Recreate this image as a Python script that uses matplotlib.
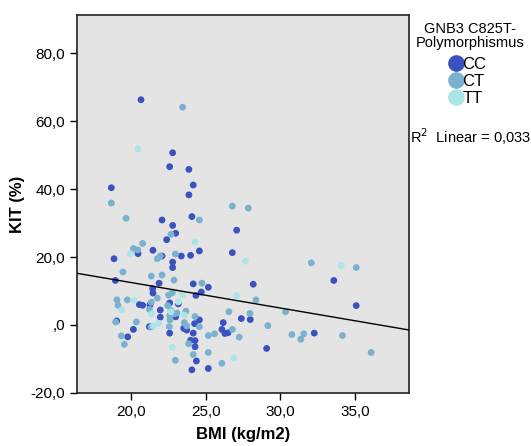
import numpy as np
from matplotlib import pyplot as plt
from matplotlib.ticker import FuncFormatter
from matplotlib.lines import Line2D

plt.rcParams['font.family'] = ['Liberation Sans', 'DejaVu Sans']

# BMI / KIT values, per genotype
cc_bmi = [20.67, 18.68, 18.86, 18.95, 19.04, 19.78, 20.16, 20.47, 20.56, 20.78,
          21.47, 21.45, 21.47, 21.27, 21.23, 21.88, 21.96, 21.96, 22.08, 22.08,
          22.39, 22.59, 22.79, 22.79, 22.99, 22.79, 22.79, 22.59, 22.59, 22.99,
          23.17, 23.37, 23.88, 23.88, 24.17, 24.08, 23.99, 24.17, 24.58, 24.71,
          24.35, 25.18, 23.53, 23.73, 24.17, 23.99, 24.29, 24.29, 24.26, 24.58,
          24.38, 24.08, 25.18, 26.18, 26.09, 26.29, 26.50, 26.79, 27.08, 27.39,
          27.99, 28.19, 29.09, 32.28, 33.59, 35.09]
cc_kit = [66.3, 40.4, 19.5, 13.1, 1.2, -3.5, -1.3, 21.0, 6.0, 5.8,
          22.0, 10.7, 9.4, 5.9, -0.5, 12.3, 4.4, 2.3, 30.9, 20.3,
          25.1, 46.6, 50.7, 29.3, 27.0, 18.5, 16.9, 6.5, -2.4, 2.4,
          6.2, 20.3, 45.8, 38.3, 41.2, 31.9, 20.5, 12.1, 21.8, 9.7,
          8.7, 11.1, -1.0, -1.5, -2.4, -4.5, -4.6, -6.4, 0.4, 1.5,
          -10.6, -13.2, -12.8, 0.7, -1.3, -2.5, -2.3, 21.3, 27.9, 1.9,
          1.6, 12.0, -6.9, -2.4, 13.1, 5.7]

ct_bmi = [23.46, 18.68, 19.67, 24.58, 26.79, 27.86, 22.68, 20.78, 20.16, 20.45,
          21.76, 21.96, 22.97, 19.46, 21.36, 22.08, 22.88, 24.75, 21.76, 19.06,
          19.13, 19.75, 20.36, 18.97, 19.35, 19.55, 21.36, 21.23, 21.34, 22.52,
          22.77, 22.46, 22.59, 22.61, 22.57, 22.68, 22.88, 23.08, 23.68, 23.57,
          23.73, 24.29, 24.58, 23.86, 24.17, 22.97, 25.18, 25.60, 25.18, 26.09,
          26.56, 26.79, 27.25, 27.97, 28.37, 29.17, 30.36, 30.78, 31.38, 31.58,
          32.08, 34.17, 35.09, 36.09]
ct_kit = [64.1, 35.9, 31.4, 30.9, 35.0, 34.4, 26.7, 24.0, 22.5, 22.1,
          19.5, 20.3, 20.9, 15.6, 14.4, 14.7, 13.2, 12.3, 7.9, 7.4,
          5.8, 7.4, 0.9, 0.9, -3.2, -5.7, 6.7, 4.6, -0.6, 8.8,
          9.5, 5.7, 2.8, 1.5, -0.5, 4.3, 3.3, 3.5, 4.1, 0.7,
          -0.3, 2.5, -0.5, -5.5, -8.7, -10.4, -3.1, -2.6, -8.1, -11.3,
          3.9, -1.3, -3.6, 3.4, 7.4, -0.2, 3.9, -2.8, -4.2, -2.6,
          18.3, -3.1, 16.9, -8.1]

tt_bmi = [20.47, 19.96, 20.18, 19.38, 21.38, 21.50, 21.85, 22.68, 23.17, 23.46,
          23.57, 24.29, 22.77, 27.08, 27.66, 26.88, 34.08]
tt_kit = [51.8, 21.0, 7.3, 4.5, 3.3, -0.3, 0.5, 3.9, 6.8, 8.9,
          2.9, 24.4, -6.6, 8.7, 18.8, -9.7, 17.5]

# fit line
fit_intercept = 27.5
fit_slope = -0.75
r2 = 0.033

c_cc = '#3A51C0'
c_ct = '#7AB1CF'
c_tt = '#ABE5E7'

fig = plt.figure(figsize=(5.31, 4.46), dpi=100)
ax = fig.add_axes([0.145, 0.119, 0.625, 0.847])
ax.set_facecolor('#E4E4E4')

ax.scatter(cc_bmi, cc_kit, s=24, color=c_cc, edgecolors='none', zorder=3)
ax.scatter(ct_bmi, ct_kit, s=24, color=c_ct, edgecolors='none', zorder=3)
ax.scatter(tt_bmi, tt_kit, s=24, color=c_tt, edgecolors='none', zorder=3)

xmin, xmax = 16.38, 38.62
xs = np.array([xmin, xmax])
ax.plot(xs, fit_intercept + fit_slope * xs, color='black', lw=1, zorder=4)

ax.set_xlim(xmin, xmax)
ax.set_ylim(-20, 91.2)
ax.set_xticks([20, 25, 30, 35])
ax.set_yticks([-20, 0, 20, 40, 60, 80])

def fmt(v, pos):
    s = ('%.1f' % v).replace('.', ',')
    if s.startswith('0,'):
        s = s[1:]
    return s

ax.xaxis.set_major_formatter(FuncFormatter(fmt))
ax.yaxis.set_major_formatter(FuncFormatter(fmt))
ax.tick_params(labelsize=11, length=5, width=1, color='black')
for sp in ax.spines.values():
    sp.set_linewidth(1.2)
    sp.set_color('#222222')

ax.set_xlabel('BMI (kg/m2)', fontsize=12, fontweight='bold', labelpad=6)
ax.set_ylabel('KIT (%)', fontsize=12, fontweight='bold', labelpad=4)

# legend
fig.text(0.885, 0.92, 'GNB3 C825T-\nPolymorphismus', ha='center', va='center',
         fontsize=10.5, linespacing=1.0)
handles = [Line2D([], [], marker='o', ls='none', markersize=12, color=c, markeredgewidth=0)
           for c in (c_cc, c_ct, c_tt)]
leg = fig.legend(handles, ['CC', 'CT', 'TT'], loc='upper left',
                 bbox_to_anchor=(0.824, 0.891), frameon=False, fontsize=12,
                 handletextpad=-0.2, labelspacing=0.12, borderpad=0, handlelength=1.2)
fig.text(0.772, 0.693, 'R$^2$  Linear = 0,033', ha='left', va='center', fontsize=10.5)

fig.savefig('out.png', dpi=100)
